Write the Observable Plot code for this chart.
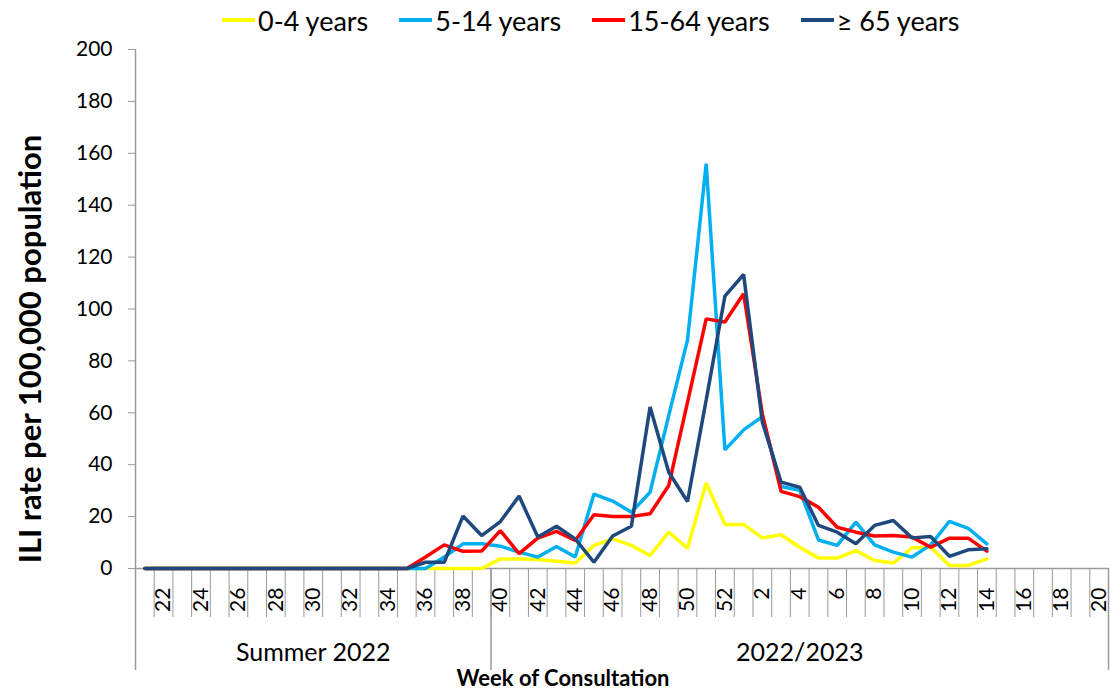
<!DOCTYPE html>
<html>
<head>
<meta charset="utf-8">
<script src="https://cdn.jsdelivr.net/npm/d3@7"></script>
<script src="https://cdn.jsdelivr.net/npm/@observablehq/plot@0.6"></script>
<style>
  html, body { margin: 0; padding: 0; background: #ffffff; }
  #wrap { width: 1110px; height: 691px; position: relative; overflow: hidden; font-family: Lato, "Open Sans", sans-serif; }
  #legend { height: 40px; display: flex; align-items: center; padding-left: 222px; box-sizing: border-box; }
  .item { display: flex; align-items: center; margin-right: 31px; font-size: 27px; color: #000; white-space: nowrap; }
  .swatch { display: inline-block; width: 33px; height: 4px; margin-right: 3px; }
  #chart svg { display: block; }
  #xtitle { position: absolute; left: 0; top: 666px; width: 1126px; text-align: center; font-weight: bold; font-size: 22px; line-height: 23px; color: #000; }
</style>
</head>
<body>
<div id="wrap">
  <div id="legend"></div>
  <div id="chart"></div>
  <div id="xtitle"></div>
</div>
<script>
// ---- Data ----
const weeks = [21,22,23,24,25,26,27,28,29,30,31,32,33,34,35,36,37,38,39,40,41,42,43,44,45,46,47,48,49,50,51,52,
               1,2,3,4,5,6,7,8,9,10,11,12,13,14,15,16,17,18,19,20];
const seasons = ["Summer 2022", "2022/2023"];
const seasonFirstWeek = [21, 40];
const seriesNames = ["0-4 years", "5-14 years", "15-64 years", "\u2265 65 years"];
const seriesColors = ["#FFFF00", "#00B0F0", "#FF0000", "#1F497D"];
const yTicks = [0, 20, 40, 60, 80, 100, 120, 140, 160, 180, 200];
const yTitle = "ILI rate per 100,000 population";
const xTitle = "Week of Consultation";

// values for weeks 21 (2022) ... 14 (2023)
const age0to4 = [0,0,0,0,0,0,0,0,0,0,0,0,0,0,0,0,0,0,0,
  3.7,3.7,3.5,2.8,2.1,8.9,11.4,8.9,5.0,14.0,7.8,33.0,17.0,
  17.0,11.8,13.0,8.2,4.0,4.0,6.9,3.1,2.1,8.0,8.2,1.2,1.2,3.7];
const age5to14 = [0,0,0,0,0,0,0,0,0,0,0,0,0,0,0,0,
  4.4,9.5,9.5,8.6,6.3,4.4,8.5,4.4,28.7,26.0,21.7,29.4,59.0,88.0,156.0,45.7,
  53.4,58.5,31.6,30.1,11.0,8.9,17.9,9.1,6.3,4.4,9.1,18.2,15.5,9.5];
const age15to64 = [0,0,0,0,0,0,0,0,0,0,0,0,0,0,0,
  4.4,9.1,6.6,6.7,14.6,5.7,11.7,14.3,10.8,20.7,20.0,20.0,21.1,32.0,64.0,96.2,95.0,
  105.9,59.6,29.7,27.7,23.6,15.9,14.0,12.5,12.7,12.1,8.2,11.7,11.7,6.7];
const age65plus = [0,0,0,0,0,0,0,0,0,0,0,0,0,0,0,
  2.4,2.4,20.2,12.7,18.1,27.9,12.1,16.3,11.4,2.4,12.5,16.3,62.2,37.1,25.8,65.0,105.0,
  113.3,56.4,33.3,31.3,16.6,14.0,9.5,16.6,18.5,11.8,12.3,4.7,7.2,7.6];
const seriesValues = [age0to4, age5to14, age15to64, age65plus];

// ---- Derived tables ----
const n = weeks.length;
const rows = [];
seriesValues.forEach((arr, s) => arr.forEach((v, i) => rows.push({series: seriesNames[s], i, v})));
const boundaries = d3.range(n + 1).map(i => i - 0.5);
const labelIdx = d3.range(n).filter(i => weeks[i] % 2 === 0);
const seasonIdx = seasonFirstWeek.map(w => weeks.indexOf(w));
const seasonEdges = [...seasonIdx.map(i => i - 0.5), n - 0.5];
const seasonCenters = seasonIdx.map((s, k) => (seasonEdges[k] + seasonEdges[k + 1]) / 2);
const gray = "#9a9a9a";

// ---- Legend ----
const legend = document.getElementById("legend");
seriesNames.forEach((name, s) => {
  const it = document.createElement("div");
  it.className = "item";
  const sw = document.createElement("span");
  sw.className = "swatch";
  sw.style.background = seriesColors[s];
  const tx = document.createElement("span");
  tx.textContent = name;
  it.appendChild(sw); it.appendChild(tx);
  legend.appendChild(it);
});
document.getElementById("xtitle").textContent = xTitle;

// ---- Chart ----
const chart = Plot.plot({
  width: 1110,
  height: 632,
  marginTop: 9,
  marginBottom: 104,
  marginLeft: 135,
  marginRight: 2,
  style: {fontFamily: "Lato, 'Open Sans', sans-serif", background: "white", overflow: "visible", color: "black"},
  x: {type: "linear", domain: [-0.5, n - 0.5]},
  y: {domain: [0, 200]},
  marks: [
    Plot.axisY({ticks: yTicks, tickSize: 7, tickPadding: 16, fontSize: 21, stroke: gray, fill: "black", label: null}),
    Plot.ruleX([-0.5], {stroke: gray, strokeWidth: 1.5}),
    Plot.ruleY([0], {stroke: gray, strokeWidth: 1.5}),
    Plot.axisX({ticks: boundaries, tickSize: 49, tickFormat: () => "", stroke: gray, label: null}),
    Plot.axisX({ticks: seasonEdges, tickSize: 102, tickFormat: () => "", stroke: gray, strokeWidth: 1.5, label: null}),
    Plot.axisX({ticks: labelIdx, tickSize: 0, tickPadding: 19, tickRotate: -90, tickFormat: i => String(weeks[i]), fontSize: 21, fill: "black", label: null}),
    Plot.axisX({ticks: seasonCenters, tickSize: 0, tickPadding: 75, tickFormat: c => seasons[seasonCenters.indexOf(c)], fontSize: 25, fill: "black", label: null}),
    ...seriesNames.map((name, s) =>
      Plot.lineY(rows.filter(d => d.series === name), {x: "i", y: "v", stroke: seriesColors[s], strokeWidth: 3.5, strokeLinejoin: "miter"})
    ),
    Plot.text([yTitle], {frameAnchor: "left", textAnchor: "middle", rotate: -90, dx: -104, dy: 40, fontSize: 31, fontWeight: "bold", fill: "black"})
  ]
});
document.getElementById("chart").appendChild(chart);
</script>
</body>
</html>
